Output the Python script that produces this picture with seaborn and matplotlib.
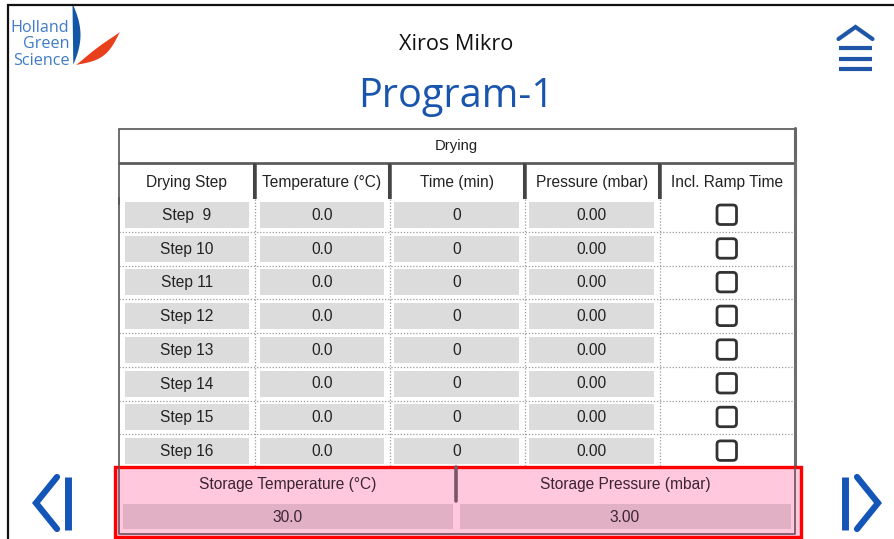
import numpy as np
import pandas as pd
import seaborn as sns
import matplotlib
matplotlib.use("Agg")
import matplotlib.pyplot as plt
from matplotlib.patches import Rectangle, FancyBboxPatch, Polygon

# ---------------- data ----------------
brand_lines = ["Holland", "Green", "Science"]
app_title = "Xiros Mikro"
program_name = "Program-1"
section_title = "Drying"
columns = ["Drying Step", "Temperature (°C)", "Time (min)", "Pressure (mbar)", "Incl. Ramp Time"]
steps = ["Step  9", "Step 10", "Step 11", "Step 12", "Step 13", "Step 14", "Step 15", "Step 16"]
temperatures = [0.0, 0.0, 0.0, 0.0, 0.0, 0.0, 0.0, 0.0]
times = [0, 0, 0, 0, 0, 0, 0, 0]
pressures = [0.00, 0.00, 0.00, 0.00, 0.00, 0.00, 0.00, 0.00]
ramp_included = [False, False, False, False, False, False, False, False]
storage_labels = ["Storage Temperature (°C)", "Storage Pressure (mbar)"]
storage_values = [30.0, 3.00]
storage_formats = ["{:.1f}", "{:.2f}"]

table = pd.DataFrame({
    "step": steps,
    "temp": [f"{v:.1f}" for v in temperatures],
    "time": [f"{v:d}" for v in times],
    "press": [f"{v:.2f}" for v in pressures],
    "ramp": ramp_included,
})

# ---------------- style ----------------
sns.set_theme(style="white")
plt.rcParams["font.family"] = ["Liberation Sans", "DejaVu Sans"]

W, H = 894, 539
fig = plt.figure(figsize=(W / 100, H / 100), dpi=100)
ax = fig.add_axes([0, 0, 1, 1])
ax.set_xlim(0, W)
ax.set_ylim(H, 0)
ax.axis("off")

BLUE = "#1a55ad"
TXT = "#222222"
GREY = "#dcdcdc"
EDGE = "#555555"
FS = 11.2

# screen border
ax.plot([7, W], [4.5, 4.5], color="#111111", lw=1.6, solid_capstyle="butt")
ax.plot([7.5, 7.5], [4, H], color="#111111", lw=1.6, solid_capstyle="butt")

# ---------------- logo ----------------
for i, t in enumerate(brand_lines):
    ax.text(69.5, 28 + i * 16.5, t, ha="right", va="center", fontsize=11.6,
            color="#3f7cc8", family=["Open Sans", "DejaVu Sans"])
# blue leaf
tt = np.linspace(0, 1, 40)
ys = 5 + 60 * tt
right = 73 + 7.5 * np.sin(np.pi * tt) ** 0.9
left = 72.5 + 0.8 * tt
ax.add_patch(Polygon(np.column_stack([np.r_[left, right[::-1]], np.r_[ys, ys[::-1]]]),
                     closed=True, color="#1456a6", lw=0))
# red leaf
p0 = np.array([76, 65]); p1 = np.array([120, 32])
d = p1 - p0; n = np.array([-d[1], d[0]]) / np.hypot(*d)
base = p0[None, :] + tt[:, None] * d[None, :]
w = 10 * np.sin(np.pi * tt) ** 1.1
bow = 4 * np.sin(np.pi * tt)
up = base + n[None, :] * (w * 0.5 + bow)[:, None]
dn = base - n[None, :] * (w * 0.5 - bow)[:, None]
ax.add_patch(Polygon(np.vstack([up, dn[::-1]]), closed=True, color="#e8401c", lw=0))

# ---------------- titles ----------------
ax.text(456, 44, app_title, ha="center", va="center", fontsize=15.6, color="#111111",
        family=["Open Sans", "DejaVu Sans"])
ax.text(456, 97, program_name, ha="center", va="center", fontsize=28.5, color=BLUE,
        family=["Open Sans", "DejaVu Sans"])

# menu icon
ax.plot([838.5, 855.5, 872.5], [39, 27, 39], color="#1f56a8", lw=3, solid_joinstyle="miter")
for y in [48, 58.5, 69]:
    ax.plot([839, 872], [y, y], color="#1f56a8", lw=3, solid_capstyle="butt")

# arrows
ax.plot([57, 36, 57], [477, 503, 529], color="#1456b8", lw=4.5, solid_joinstyle="miter")
ax.plot([68, 68], [477, 530], color="#1456b8", lw=5, solid_capstyle="butt")
ax.plot([857, 878, 857], [477, 503, 529], color="#1456b8", lw=4.5, solid_joinstyle="miter")
ax.plot([844.5, 844.5], [477, 530], color="#1456b8", lw=5, solid_capstyle="butt")

# ---------------- table ----------------
TL, TR = 118.5, 794.5
# Drying header box
ax.add_patch(Rectangle((TL, 128.5), TR - TL, 34, fill=False, ec=EDGE, lw=1.2))
ax.plot([TR, TR], [128, 162], color="#666666", lw=2.2)
ax.text((TL + TR) / 2, 146, section_title, ha="center", va="center", fontsize=FS - 0.5, color=TXT)

col_edges = [(118.5, 253.5), (255.5, 388.5), (390.5, 523.5), (525.5, 658.5), (660.5, 794.5)]
for (x0, x1), lab in zip(col_edges, columns):
    ax.add_patch(Rectangle((x0, 164), x1 - x0, 40, fill=False, ec=EDGE, lw=1.2, clip_on=True))
    ax.plot([x1, x1], [164, 198], color="#444444", lw=2.2)
    ax.text((x0 + x1) / 2, 182, lab, ha="center", va="center", fontsize=FS, color=TXT)
# white out the bottom of header rectangles
ax.add_patch(Rectangle((119.5, 198.6), 674, 6, color="white", lw=0, zorder=2))

# body frame
ax.plot([TL, TL], [198, 467], color=EDGE, lw=1.2, zorder=3)
ax.plot([TR, TR], [160, 467], color="#6e6e6e", lw=2.2, zorder=3)

row_y0, pitch = 215, 33.7
cell_x = [(125, 249), (260, 384), (394, 519), (529, 654)]
for i, row in table.iterrows():
    cy = row_y0 + i * pitch
    for (x0, x1), key in zip(cell_x, ["step", "temp", "time", "press"]):
        ax.add_patch(Rectangle((x0, cy - 13), x1 - x0, 26, color=GREY, lw=0, zorder=3))
        ax.text((x0 + x1) / 2, cy + 0.5, row[key], ha="center", va="center",
                fontsize=FS, color=TXT, zorder=4)
    ax.add_patch(FancyBboxPatch((717, cy - 10), 19.5, 19.5,
                                boxstyle="round,pad=0,rounding_size=3.5",
                                fc="white" if not row["ramp"] else "#333333",
                                ec="#333333", lw=2.0, zorder=4))
    if i < len(table) - 1:
        ax.plot([TL, TR], [cy + 17, cy + 17], color="#9a9a9a", lw=0.9,
                ls=(0, (1, 1.5)), zorder=2)
for xv in [255, 390, 525, 660]:
    ax.plot([xv, xv], [199, 466], color="#9a9a9a", lw=0.9, ls=(0, (1, 1.5)), zorder=2)

# ---------------- storage panel ----------------
ax.add_patch(Rectangle((114.5, 466.5), 686, 70, fc="#ffc8dc", ec="#ff0000", lw=2.4, zorder=5))
ax.plot([119, 119, 794.5, 794.5], [467, 534, 534, 467], color="#6a5060", lw=1.2, zorder=6)
ax.plot([455.5, 455.5], [467, 500.5], color="#7a5868", lw=2.6, zorder=6)
store_cells = [(122.5, 452.5), (459.5, 790.5)]
for (x0, x1), lab, val, fmt in zip(store_cells, storage_labels, storage_values, storage_formats):
    ax.add_patch(Rectangle((x0, 503.5), x1 - x0, 25, color="#e2b0c4", lw=0, zorder=6))
    ax.text((x0 + x1) / 2, 485, lab, ha="center", va="center", fontsize=FS,
            color="#3a2434", zorder=7)
    ax.text((x0 + x1) / 2, 517, fmt.format(val), ha="center", va="center", fontsize=FS,
            color="#3a2434", zorder=7)

fig.savefig("out.png", dpi=100, facecolor="white")
